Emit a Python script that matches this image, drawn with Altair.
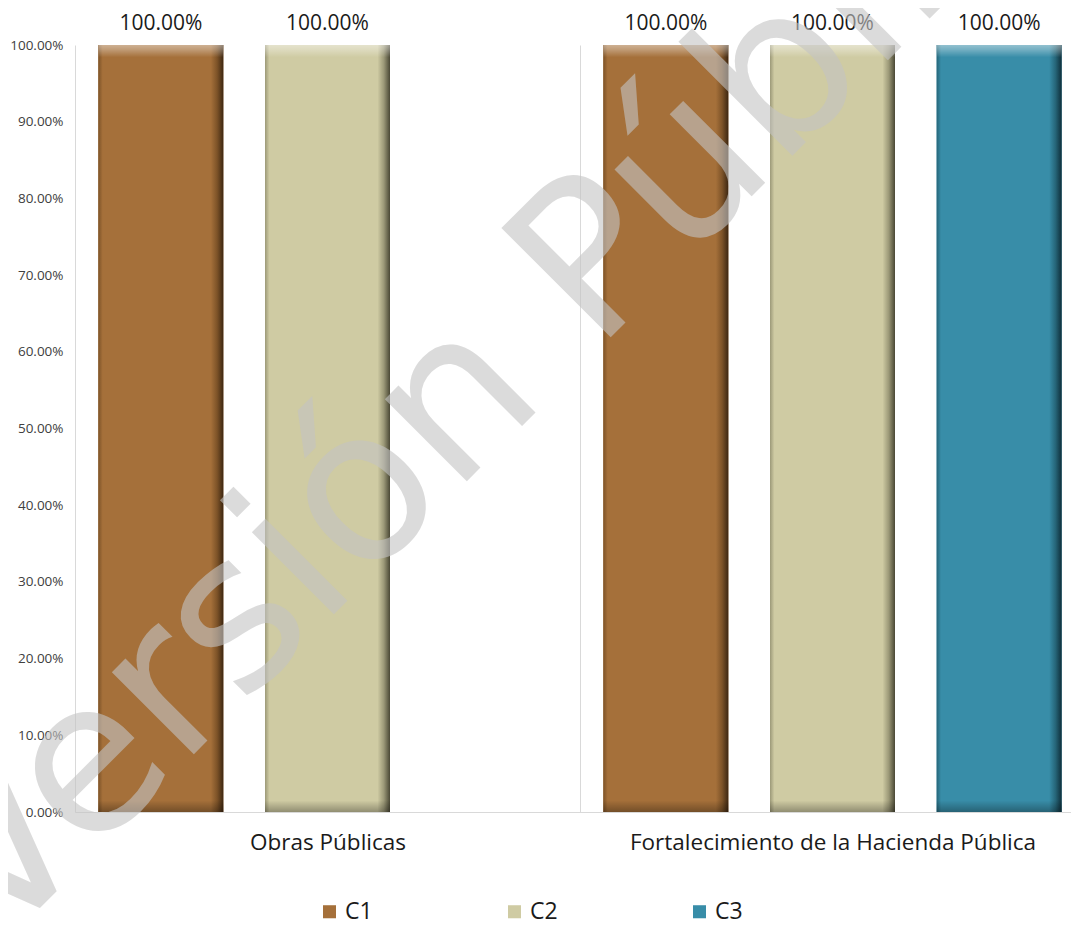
import altair as alt
import pandas as pd

groups = ["Obras Públicas", "Obras Públicas",
          "Fortalecimiento de la Hacienda Pública", "Fortalecimiento de la Hacienda Pública", "Fortalecimiento de la Hacienda Pública"]
series = ["C1", "C2", "C1", "C2", "C3"]
values = [1.0, 1.0, 1.0, 1.0, 1.0]

group_order = ["Obras Públicas", "Fortalecimiento de la Hacienda Pública"]
series_order = ["C1", "C2", "C3"]
fill_colors = ["#A5703A", "#CFCBA3", "#388DA8"]
edge_dark = ["#3d2712", "#4a4835", "#0f2f3a"]
edge_mid = ["#7d5328", "#9c9978", "#266679"]

df = pd.DataFrame({"grupo": groups, "serie": series, "valor": values})

FONT = "Open Sans"

x_scale = alt.Scale(paddingInner=0, paddingOuter=0, range=[0, 1010])
xo_scale = alt.Scale(paddingInner=0.25, paddingOuter=0.14)

x_enc = alt.X("grupo:N", sort=group_order, title=None, scale=x_scale,
              axis=alt.Axis(labelAngle=0, labelFontSize=22.5, labelColor="#1a1a1a", labelFont=FONT,
                            labelPadding=19, labelLimit=0, ticks=False, grid=True, tickBand="extent",
                            gridColor="#d9d9d9", domainColor="#d9d9d9", domainWidth=1))
xo_enc = alt.XOffset("serie:N", sort=series_order, scale=xo_scale)
y_enc = alt.Y("valor:Q", title=None,
              scale=alt.Scale(domain=[0, 1]),
              axis=alt.Axis(format=".2%", values=[i / 10 for i in range(11)], labelFontSize=13.5,
                            labelColor="#404040", labelFont=FONT, ticks=False, grid=False,
                            domain=False, labelPadding=12))

base = alt.Chart(df)

bars = base.mark_bar().encode(
    x=x_enc, xOffset=xo_enc, y=y_enc,
    color=alt.Color("serie:N", sort=series_order,
                    scale=alt.Scale(domain=series_order, range=fill_colors),
                    legend=alt.Legend(title=None, orient="none", legendX=243, legendY=855,
                                      direction="horizontal", symbolType="square", symbolSize=170,
                                      labelFontSize=23, labelFont=FONT, labelColor="#1a1a1a",
                                      columnPadding=130, symbolStrokeWidth=0)),
)

# bevel shading: horizontal gradient per series
shade_layers = []
for s, fc, dk, md in zip(series_order, fill_colors, edge_dark, edge_mid):
    grad = alt.LinearGradient(
        gradient="linear", x1=0, x2=1, y1=0, y2=0,
        stops=[alt.GradientStop(color=md, offset=0),
               alt.GradientStop(color=fc, offset=0.035),
               alt.GradientStop(color=fc, offset=0.90),
               alt.GradientStop(color=md, offset=0.95),
               alt.GradientStop(color=dk, offset=1)])
    shade_layers.append(
        base.transform_filter(alt.datum.serie == s).mark_bar(color=grad).encode(
            x=alt.X("grupo:N", sort=group_order, scale=x_scale),
            xOffset=alt.XOffset("serie:N", sort=series_order, scale=xo_scale),
            y="valor:Q",
        )
    )

top_grad = alt.LinearGradient(
    gradient="linear", x1=0, x2=0, y1=0, y2=1,
    stops=[alt.GradientStop(color="rgba(255,255,255,0.45)", offset=0),
           alt.GradientStop(color="rgba(255,255,255,0.30)", offset=0.006),
           alt.GradientStop(color="rgba(255,255,255,0.0)", offset=0.016),
           alt.GradientStop(color="rgba(0,0,0,0.0)", offset=0.985),
           alt.GradientStop(color="rgba(0,0,0,0.30)", offset=1)])
bevel = base.mark_bar(color=top_grad).encode(
    x=alt.X("grupo:N", sort=group_order, scale=x_scale),
    xOffset=alt.XOffset("serie:N", sort=series_order, scale=xo_scale),
    y="valor:Q",
)

labels = base.mark_text(baseline="bottom", dy=-11, fontSize=21, font=FONT, color="#1a1a1a").encode(
    x=alt.X("grupo:N", sort=group_order, scale=x_scale),
    xOffset=alt.XOffset("serie:N", sort=series_order, scale=xo_scale),
    y="valor:Q", text=alt.Text("valor:Q", format=".2%"),
)

wm = alt.Chart(pd.DataFrame({"t": ["Versión Pública"]})).mark_text(
    align="left", baseline="alphabetic", angle=315, fontSize=212, font="DejaVu Sans",
    color="#c4c4c4", opacity=0.6,
).encode(text="t:N", x=alt.value(-78), y=alt.value(906))

chart = alt.layer(bars, *shade_layers, bevel, labels, wm).properties(
    width=996, height=767,
    autosize=alt.AutoSizeParams(type="none"),
    padding={"left": 67, "top": 37, "right": 0, "bottom": 116},
).configure_view(stroke=None)

chart.save("out.html", embed_options={"renderer": "svg", "actions": False})
